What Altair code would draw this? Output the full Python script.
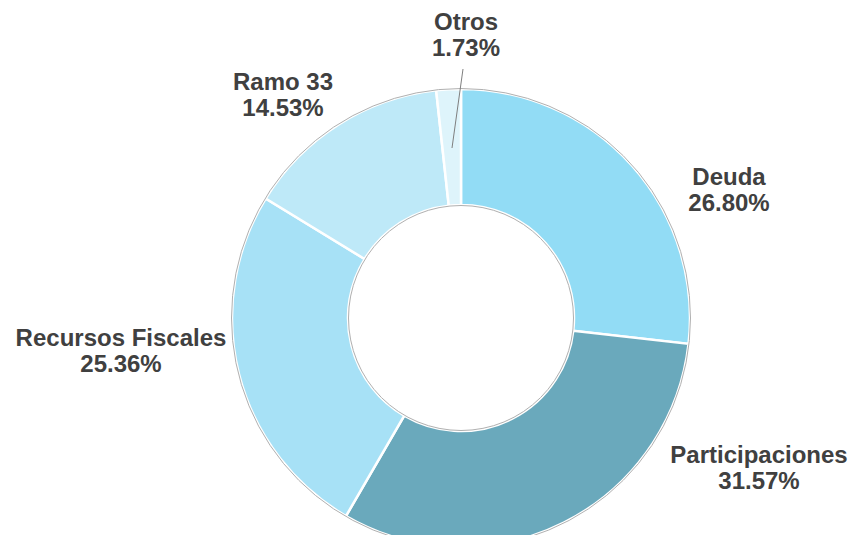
import altair as alt
import pandas as pd

categories = ["Deuda", "Participaciones", "Recursos Fiscales", "Ramo 33", "Otros"]
shares = [26.80, 31.57, 25.36, 14.53, 1.73]
pct_labels = ["26.80%", "31.57%", "25.36%", "14.53%", "1.73%"]
colors = ["#92dcf5", "#6aa9bc", "#a7e1f6", "#bee9f8", "#def4fb"]

df = pd.DataFrame({"cat": categories, "share": shares, "order": list(range(len(categories)))})

# layout (pixel positions of the plot area)
W, H = 840, 527
CX, CY = 453, 310
R_OUT, R_IN = 229, 113
label_pos = {
    "Deuda": (721, 170),
    "Participaciones": (751, 448),
    "Recursos Fiscales": (113, 331),
    "Ramo 33": (275, 75),
    "Otros": (458, 15),
}

color_scale = alt.Scale(domain=categories, range=colors)

arcs = alt.Chart(df).mark_arc(
    x=CX, y=CY, radius=R_OUT, radius2=R_IN, stroke="white", strokeWidth=2.5
).encode(
    theta=alt.Theta("share:Q", stack=True),
    color=alt.Color("cat:N", scale=color_scale, sort=None, legend=None),
    order=alt.Order("order:Q"),
)

ring = alt.Chart(pd.DataFrame({"v": [1]})).mark_arc(
    x=CX, y=CY, radius=R_OUT + 0.5, radius2=R_IN - 0.5, fillOpacity=0, stroke="#b0b0b0", strokeWidth=1
).encode(theta=alt.value(0), theta2=alt.value(6.2832))

leader = alt.Chart(pd.DataFrame({"v": [1]})).mark_rule(color="#7f7f7f", strokeWidth=1).encode(
    x=alt.value(455), y=alt.value(61), x2=alt.value(444), y2=alt.value(140)
)

texts = []
for cat, pct in zip(categories, pct_labels):
    lx, ly = label_pos[cat]
    t = alt.Chart(pd.DataFrame({"lab": [[cat, pct]]})).mark_text(
        font="Liberation Sans", fontWeight="bold", fontSize=24, color="#404040",
        align="center", baseline="middle", lineHeight=26,
    ).encode(text="lab", x=alt.value(lx), y=alt.value(ly))
    texts.append(t)

chart = alt.layer(arcs, ring, leader, *texts).properties(
    width=W, height=H, autosize=alt.AutoSizeParams(type="none"), padding=0
).configure_view(stroke=None)

chart.save("out.html", embed_options={"renderer": "svg", "actions": False})
